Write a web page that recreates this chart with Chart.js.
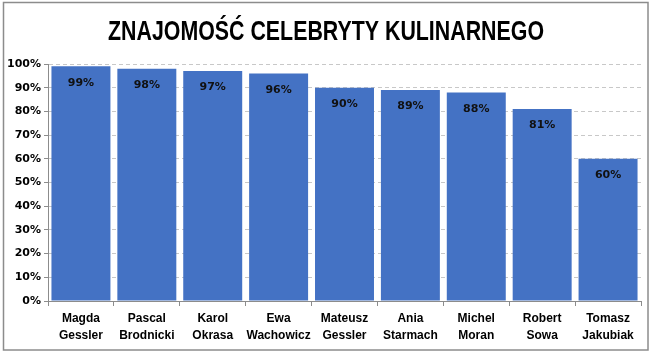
<!DOCTYPE html>
<html><head><meta charset="utf-8">
<script src="https://cdn.jsdelivr.net/npm/chart.js@4"></script>
<style>html,body{margin:0;padding:0;background:#fff;}#wrap{width:652px;height:360px;}</style>
</head><body><div id="wrap"><canvas id="c" width="652" height="360"></canvas></div>
<script>
const titleText = 'ZNAJOMOŚĆ CELEBRYTY KULINARNEGO';
const categories = [['Magda','Gessler'],['Pascal','Brodnicki'],['Karol','Okrasa'],['Ewa','Wachowicz'],['Mateusz','Gessler'],['Ania','Starmach'],['Michel','Moran'],['Robert','Sowa'],['Tomasz','Jakubiak']];
const values = [99, 98, 97, 96, 90, 89, 88, 81, 60];
const yTicks = [0,10,20,30,40,50,60,70,80,90,100];

const deco = {
  id:'deco',
  beforeDraw(chart){
    const ctx = chart.ctx;
    ctx.save();
    ctx.fillStyle='#fff';
    ctx.fillRect(0,0,chart.width,chart.height);
    ctx.strokeStyle='#8c8c8c';
    ctx.lineWidth=1.5;
    ctx.strokeRect(3.5,2.5,644.5,347.5);
    // title
    ctx.fillStyle='#000';
    ctx.font='bold 28px "Liberation Sans", Arial, sans-serif';
    ctx.textBaseline='alphabetic';
    ctx.textAlign='center';
    const w = ctx.measureText(titleText).width;
    const target = 436;
    ctx.translate(326,40);
    ctx.scale(target/w,1);
    ctx.fillText(titleText,0,0);
    ctx.restore();
  },
  afterDatasetsDraw(chart){
    const ctx = chart.ctx;
    const meta = chart.getDatasetMeta(0);
    ctx.save();
    ctx.fillStyle='#111';
    ctx.font='bold 11px "DejaVu Sans", sans-serif';
    ctx.textAlign='center';
    ctx.textBaseline='middle';
    meta.data.forEach((bar,i)=>{
      ctx.fillText(values[i]+'%', bar.x, bar.y+16.5);
    });
    ctx.restore();
  }
};

new Chart(document.getElementById('c'),{
  type:'bar',
  data:{labels:categories,datasets:[{data:values,backgroundColor:'#4472C4',borderWidth:0,barPercentage:0.895,categoryPercentage:1}]},
  options:{
    responsive:false,animation:false,
    layout:{padding:{left:0,right:11,top:64,bottom:0}},
    plugins:{legend:{display:false},tooltip:{enabled:false},title:{display:false}},
    scales:{
      x:{
        offset:true,
        grid:{display:true,drawOnChartArea:false,drawTicks:true,tickLength:5,color:'#8c8c8c',offset:true},
        border:{display:true,color:'#8c8c8c',width:1},
        ticks:{color:'#000',font:{family:'"Liberation Sans", Arial, sans-serif',size:12,weight:'bold',lineHeight:1.42},padding:4,maxRotation:0,autoSkip:false},
        afterFit(s){s.height=59;}
      },
      y:{
        min:0,max:100,
        afterBuildTicks(s){s.ticks=yTicks.map(v=>({value:v}));},
        grid:{color:'#c8c8c8',tickLength:4,tickColor:'#8c8c8c',drawTicks:true},
        border:{display:true,color:'#8c8c8c',dash:[4,3]},
        ticks:{color:'#000',font:{family:'"DejaVu Sans", sans-serif',size:11,weight:'bold'},padding:3,callback:v=>v+'%'},
        afterFit(s){s.width=48;}
      }
    }
  },
  plugins:[deco]
});
</script></body></html>
